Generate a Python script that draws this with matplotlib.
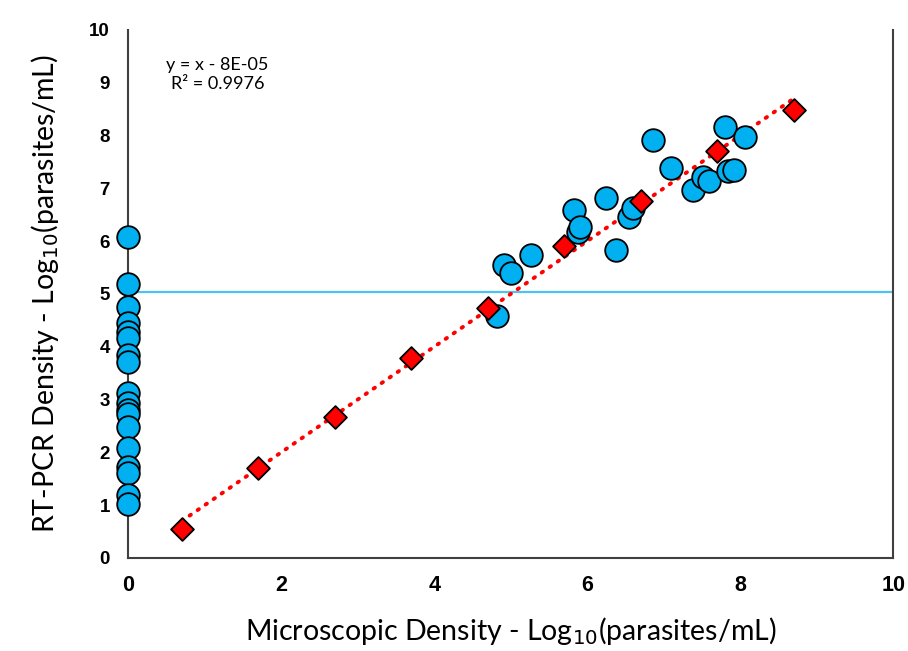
import matplotlib
matplotlib.use("Agg")
import matplotlib.pyplot as plt
import numpy as np

# RT-PCR vs microscopy, field samples (x = 0 means microscopy negative)
neg_pcr = [6.08, 5.18, 4.75, 4.45, 4.28, 4.17, 3.84, 3.72, 3.12, 2.93, 2.80,
           2.72, 2.48, 2.08, 1.73, 1.60, 1.20, 1.02]
pos_micro = [4.82, 4.91, 5.00, 5.26, 5.82, 5.88, 5.90, 6.25, 6.37, 6.55, 6.60,
             6.86, 7.09, 7.38, 7.51, 7.59, 7.80, 7.84, 7.92, 8.06]
pos_pcr = [4.58, 5.54, 5.39, 5.74, 6.59, 6.18, 6.26, 6.81, 5.83, 6.45, 6.62,
           7.92, 7.38, 6.97, 7.21, 7.13, 8.17, 7.32, 7.35, 7.98]

# dilution series standards
std_micro = [0.70, 1.70, 2.70, 3.70, 4.70, 5.70, 6.70, 7.70, 8.70]
std_pcr = [0.55, 1.70, 2.67, 3.79, 4.73, 5.91, 6.76, 7.71, 8.48]

threshold = 5.04

BLUE = "#00B0F0"

fig = plt.figure(figsize=(9.08, 6.51), dpi=100)
ax = fig.add_axes([0.141, 0.143, 0.843, 0.811])

ax.set_xlim(0, 10)
ax.set_ylim(0, 10)

ax.axhline(threshold, color="#4DC3F0", lw=1.6, zorder=1)

slope, icpt = np.polyfit(std_micro, std_pcr, 1)
xs = np.array([min(std_micro), max(std_micro)])
ax.plot(xs, slope * xs + icpt, color="#FF0000", lw=2.8,
        linestyle=(0, (0.4, 2.1)), dash_capstyle="round", zorder=2)

ax.scatter([0] * len(neg_pcr), neg_pcr, s=265, color=BLUE,
           edgecolors="black", linewidths=1.3, zorder=4, clip_on=False)
ax.scatter(pos_micro, pos_pcr, s=265, color=BLUE,
           edgecolors="black", linewidths=1.3, zorder=4)
ax.scatter(std_micro, std_pcr, s=135, marker="D", color="#FF0000",
           edgecolors="black", linewidths=1.3, zorder=5)

ax.text(1.17, 9.16, "y = x - 8E-05\nR² = 0.9976", ha="center", va="center",
        fontsize=13, family="Lato", linespacing=1.2)

for side in ["left", "bottom", "right"]:
    ax.spines[side].set_color("#404040")
    ax.spines[side].set_linewidth(1.5)
ax.spines["top"].set_visible(False)

ax.set_xticks(np.arange(0, 11, 2))
ax.set_yticks(np.arange(0, 11, 1))
ax.tick_params(axis="x", length=0, pad=12, labelsize=15.5)
ax.tick_params(axis="y", length=0, pad=13, labelsize=13.5)
for lab in ax.get_xticklabels() + ax.get_yticklabels():
    lab.set_fontweight("bold")
    lab.set_family("Liberation Sans")

ax.set_xlabel("Microscopic Density - Log$_{10}$(parasites/mL)", fontsize=20.5,
              family="Lato", labelpad=14)
ax.set_ylabel("RT-PCR Density - Log$_{10}$(parasites/mL)", fontsize=20.5,
              family="Lato", labelpad=20)

fig.savefig("out.png", dpi=100)
